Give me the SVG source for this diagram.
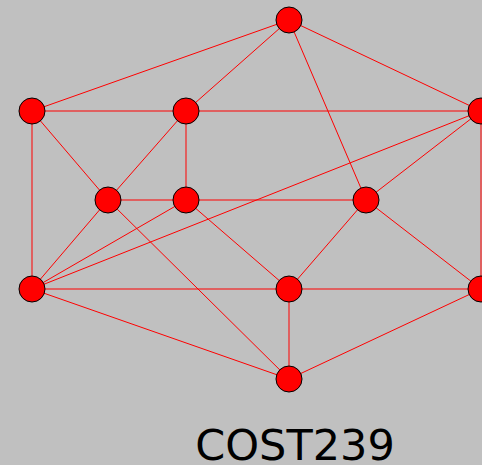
<svg xmlns="http://www.w3.org/2000/svg" width="482" height="465" viewBox="0 0 482 465">
  <style>
    .edge { stroke: #ff0000; stroke-width: 1; fill: none; }
    .node { fill: #ff0000; stroke: #000000; stroke-width: 1; }
    .title { font-family: "DejaVu Sans", sans-serif; font-size: 43px; fill: #000000; }
  </style>
  <rect width="482" height="465" fill="#c0c0c0"/>
  <g id="connectors">
    <line class="edge" x1="289" y1="20" x2="32" y2="111"/>
    <line class="edge" x1="289" y1="20" x2="186" y2="111"/>
    <line class="edge" x1="289" y1="20" x2="366" y2="200"/>
    <line class="edge" x1="289" y1="20" x2="481" y2="111"/>
    <line class="edge" x1="32" y1="111" x2="186" y2="111"/>
    <line class="edge" x1="186" y1="111" x2="481" y2="111"/>
    <line class="edge" x1="32" y1="111" x2="32" y2="289"/>
    <line class="edge" x1="32" y1="111" x2="108" y2="200"/>
    <line class="edge" x1="186" y1="111" x2="108" y2="200"/>
    <line class="edge" x1="186" y1="111" x2="186" y2="200"/>
    <line class="edge" x1="108" y1="200" x2="186" y2="200"/>
    <line class="edge" x1="108" y1="200" x2="32" y2="289"/>
    <line class="edge" x1="108" y1="200" x2="289" y2="379"/>
    <line class="edge" x1="186" y1="200" x2="366" y2="200"/>
    <line class="edge" x1="186" y1="200" x2="32" y2="289"/>
    <line class="edge" x1="186" y1="200" x2="289" y2="289"/>
    <line class="edge" x1="481" y1="111" x2="366" y2="200"/>
    <line class="edge" x1="481" y1="111" x2="32" y2="289"/>
    <line class="edge" x1="481" y1="111" x2="481" y2="289"/>
    <line class="edge" x1="366" y1="200" x2="289" y2="289"/>
    <line class="edge" x1="366" y1="200" x2="481" y2="289"/>
    <line class="edge" x1="32" y1="289" x2="289" y2="289"/>
    <line class="edge" x1="289" y1="289" x2="481" y2="289"/>
    <line class="edge" x1="32" y1="289" x2="289" y2="379"/>
    <line class="edge" x1="289" y1="289" x2="289" y2="379"/>
    <line class="edge" x1="289" y1="379" x2="481" y2="289"/>
  </g>
  <g id="n0"><circle class="node" cx="289" cy="20" r="13"/></g>
  <g id="n1"><circle class="node" cx="32" cy="111" r="13"/></g>
  <g id="n2"><circle class="node" cx="186" cy="111" r="13"/></g>
  <g id="n3"><circle class="node" cx="481" cy="111" r="13"/></g>
  <g id="n4"><circle class="node" cx="108" cy="200" r="13"/></g>
  <g id="n5"><circle class="node" cx="186" cy="200" r="13"/></g>
  <g id="n6"><circle class="node" cx="366" cy="200" r="13"/></g>
  <g id="n7"><circle class="node" cx="32" cy="289" r="13"/></g>
  <g id="n8"><circle class="node" cx="289" cy="289" r="13"/></g>
  <g id="n9"><circle class="node" cx="481" cy="289" r="13"/></g>
  <g id="n10"><circle class="node" cx="289" cy="379" r="13"/></g>
  <text class="title" x="295" y="460" text-anchor="middle">COST239</text>
</svg>
